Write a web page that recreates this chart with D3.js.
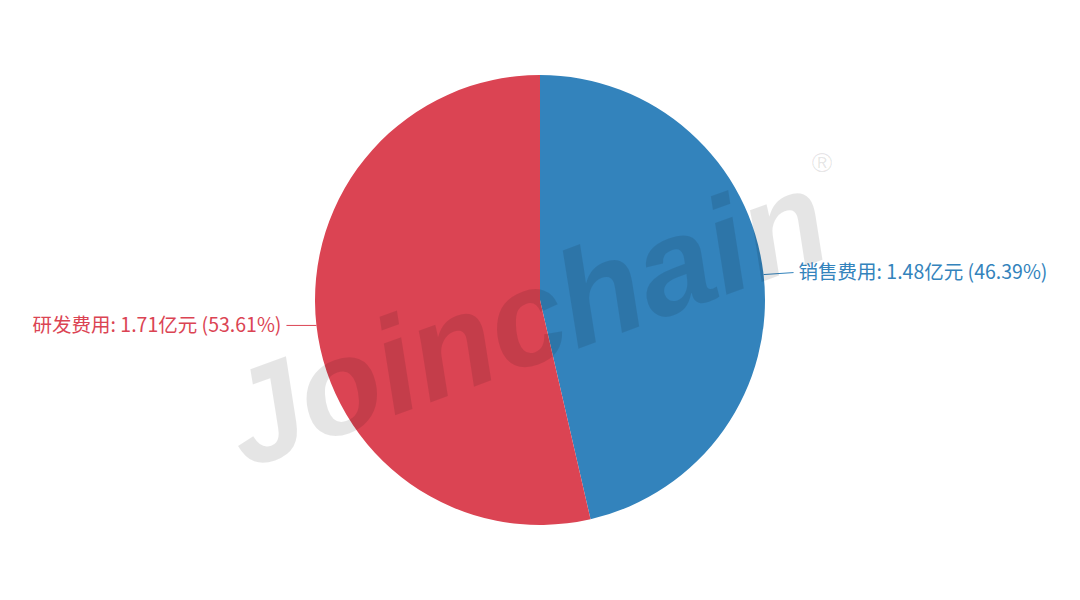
<!DOCTYPE html>
<html><head><meta charset="utf-8">
<script src="https://cdn.jsdelivr.net/npm/d3@7"></script>
<style>html,body{margin:0;padding:0;background:#fff;}svg{display:block;}</style>
</head><body>
<svg id="chart" width="1080" height="600"></svg>
<script>
const categories = ["销售费用", "研发费用"];
const values = [1.48, 1.71];
const unit = "亿元";
const colors = ["#3383bc", "#db4453"];

const W = 1080, H = 600, cx = 540, cy = 300, R = 225;
const svg = d3.select("#chart");
const data = categories.map((c, i) => ({name: c, value: values[i], color: colors[i]}));
const total = d3.sum(values);
const pie = d3.pie().sort(null).value(d => d.value);
const arcs = pie(data);
const arc = d3.arc().innerRadius(0).outerRadius(R);

const g = svg.append("g").attr("transform", `translate(${cx},${cy})`);
g.selectAll("path.slice").data(arcs).enter().append("path")
  .attr("class", "slice").attr("d", arc).attr("fill", d => d.data.color);

const font = "'Noto Sans CJK SC','Microsoft YaHei',sans-serif";
arcs.forEach(a => {
  const mid = (a.startAngle + a.endAngle) / 2;
  const x0 = Math.sin(mid) * R, y0 = -Math.cos(mid) * R;
  const right = x0 > 0;
  const x1 = x0 + (right ? 30 : -30);
  g.append("path").attr("d", `M${x0},${y0}L${x1},${y0 - (right ? 2 : 0)}`)
    .attr("stroke", a.data.color).attr("stroke-width", 1).attr("fill", "none");
  g.append("text").attr("x", x1 + (right ? 5 : -5)).attr("y", y0 - (right ? 2 : 0))
    .attr("dy", "0.35em").attr("text-anchor", right ? "start" : "end")
    .attr("fill", a.data.color).attr("font-family", font).attr("font-size", 19.5)
    .text(`${a.data.name}: ${a.data.value}${unit} (${(a.data.value / total * 100).toFixed(2)}%)`);
});

// watermark
const wm = svg.append("g").attr("transform", "translate(245,470) rotate(-20)");
wm.append("text").attr("x", 0).attr("y", 0)
  .attr("font-family", "'Liberation Sans',Arial,sans-serif").attr("font-weight", "bold")
  .attr("font-style", "italic").attr("font-size", 135).attr("fill", "#000").attr("fill-opacity", 0.1)
  .text("Joinchain");
svg.append("text").attr("x", 822).attr("y", 172).attr("text-anchor", "middle")
  .attr("font-family", "'Liberation Sans',Arial,sans-serif").attr("font-size", 28)
  .attr("fill", "#000").attr("fill-opacity", 0.1).text("®");
</script>
</body></html>
